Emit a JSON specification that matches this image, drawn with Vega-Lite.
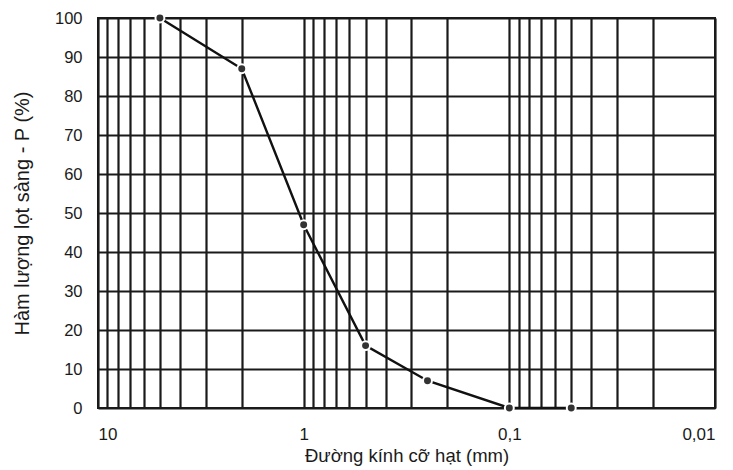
{
  "$schema": "https://vega.github.io/schema/vega-lite/v6.json",
  "autosize": {"type": "none"},
  "padding": {"left": 98, "top": 18, "right": 18, "bottom": 62},
  "width": 617,
  "height": 390,
  "background": "white",
  "config": {
    "view": {"stroke": "#1a1a1a", "strokeWidth": 2},
    "axis": {"grid": true, "gridColor": "#1a1a1a", "gridWidth": 2.2, "gridOpacity": 1, "domain": false, "ticks": false, "labelColor": "#1a1a1a", "titleColor": "#1a1a1a", "titleFontWeight": "normal"}
  },
  "data": {
    "values": [
      {"d": 5, "p": 100},
      {"d": 2, "p": 87},
      {"d": 1, "p": 47},
      {"d": 0.5, "p": 16},
      {"d": 0.25, "p": 7},
      {"d": 0.1, "p": 0},
      {"d": 0.05, "p": 0}
    ]
  },
  "encoding": {
    "x": {
      "field": "d", "type": "quantitative",
      "scale": {"type": "log", "domain": [0.01, 10], "reverse": true, "nice": false},
      "axis": {
        "values": [10, 9, 8, 7, 6, 5, 4, 3, 2, 1, 0.9, 0.8, 0.7, 0.6, 0.5, 0.4, 0.3, 0.2, 0.1, 0.09, 0.08, 0.07, 0.06, 0.05, 0.04, 0.03, 0.02, 0.01],
        "labelExpr": "datum.value == 10 ? '10' : datum.value == 1 ? '1' : datum.value == 0.1 ? '0,1' : datum.value == 0.01 ? '0,01' : ''",
        "labelOverlap": false,
        "labelBound": false,
        "labelFont": "Liberation Sans, sans-serif",
        "labelFontSize": 17,
        "labelPadding": 18,
        "title": "Đường kính cỡ hạt (mm)",
        "titleFont": "Liberation Sans, sans-serif",
        "titleFontSize": 18.5,
        "titlePadding": 4
      }
    },
    "y": {
      "field": "p", "type": "quantitative",
      "scale": {"domain": [0, 100], "nice": false},
      "axis": {
        "values": [0, 10, 20, 30, 40, 50, 60, 70, 80, 90, 100],
        "labelFont": "Liberation Sans, sans-serif",
        "labelFontSize": 16.5,
        "labelPadding": 16,
        "title": "Hàm lượng lọt sàng - P (%)",
        "titleFont": "Liberation Sans, sans-serif",
        "titleFontSize": 20,
        "titlePadding": 22
      }
    }
  },
  "layer": [
    {"mark": {"type": "line", "color": "#111111", "strokeWidth": 2.4}},
    {"mark": {"type": "point", "filled": true, "color": "#333333", "size": 80, "opacity": 1, "stroke": "white", "strokeWidth": 2}}
  ]
}
